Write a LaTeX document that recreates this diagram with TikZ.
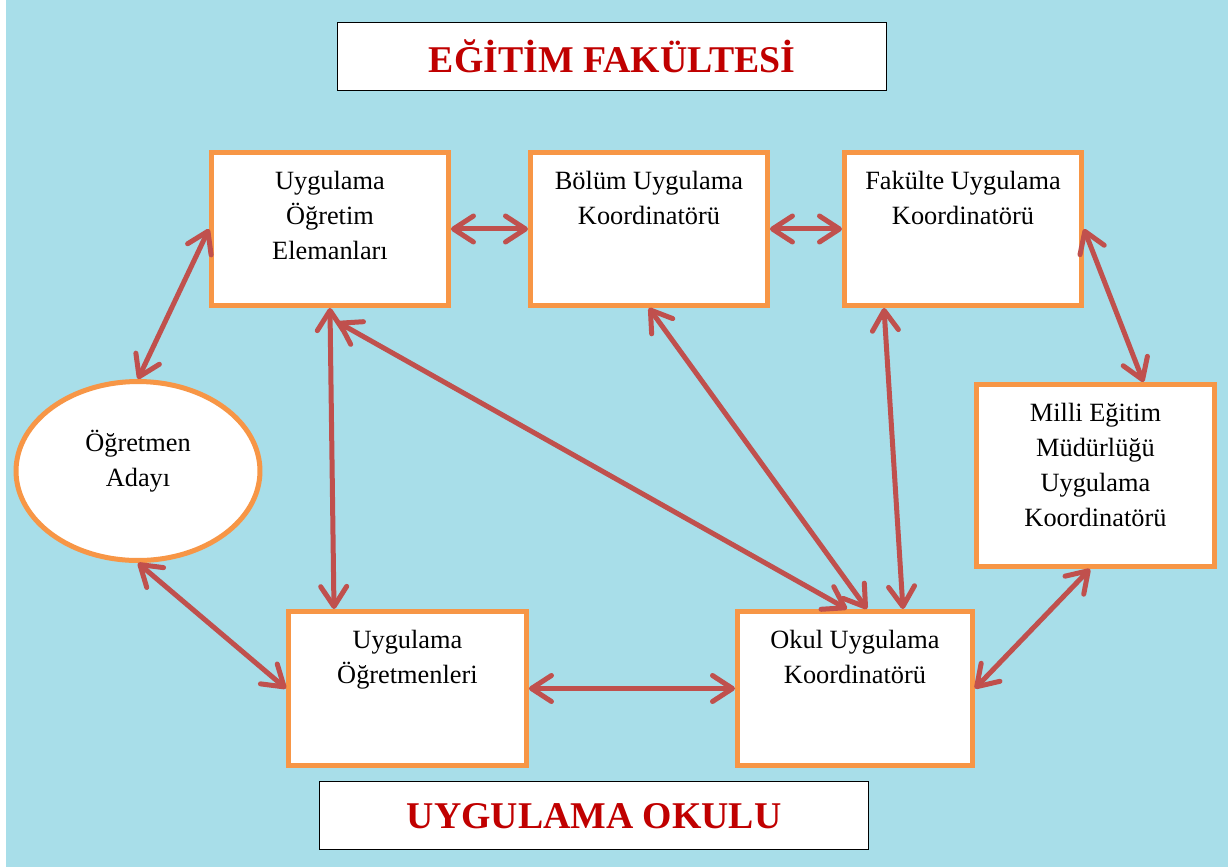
\documentclass[tikz,border=0pt]{standalone}
\usepackage{fontspec}
\setmainfont{Liberation Serif}
\usetikzlibrary{shapes.geometric,arrows.meta}

\definecolor{waterblue}{RGB}{168,222,233}
\definecolor{boxorange}{RGB}{247,150,70}
\definecolor{linkred}{RGB}{192,80,77}
\definecolor{titlered}{RGB}{192,0,0}

% text at the top of a unit box: width, height, lines
\newcommand{\unittext}[3]{\parbox[t][#2][t]{#1}{\centering\rule{0pt}{0.74cm}#3}}

\begin{document}
\begin{tikzpicture}[
  x=0.02cm,y=-0.02cm,
  titlebox/.style={
    draw=black,
    line width=0.8pt,
    fill=white,
    inner sep=0pt,
    anchor=north west,
    minimum width=10.98cm,
    minimum height=1.36cm,
    text=titlered,
    font=\fontsize{21.5}{26}\selectfont\bfseries
  },
  unit/.style={
    draw=boxorange,
    line width=0.1cm,
    fill=white,
    inner sep=0pt,
    anchor=north west,
    font=\fontsize{15}{20}\selectfont
  },
  link/.style={
    draw=linkred,
    line width=0.1cm,
    line cap=round,
    {Straight Barb[length=0.4cm,width=0.52cm,round]}-{Straight Barb[length=0.4cm,width=0.52cm,round]}
  }
]
  \useasboundingbox (0,0) rectangle (1228,867);
  \fill[white] (0,0) rectangle (1228,867);
  \fill[waterblue] (6,0) rectangle (1228,867);

  % faculty side
  \node[titlebox] (faculty) at (337,22) {EĞİTİM FAKÜLTESİ};
  \node[unit] (staff) at (209,150) {\unittext{4.74cm}{3.06cm}{Uygulama\\Öğretim\\Elemanları}};
  \node[unit] (deptcoord) at (528,150) {\unittext{4.74cm}{3.06cm}{Bölüm Uygulama\\Koordinatörü}};
  \node[unit] (faccoord) at (842,150) {\unittext{4.74cm}{3.06cm}{Fakülte Uygulama\\Koordinatörü}};
  \node[unit] (meb) at (974,382) {\unittext{4.76cm}{3.64cm}{Milli Eğitim\\Müdürlüğü\\Uygulama\\Koordinatörü}};
  \node[ellipse,draw=boxorange,line width=0.1cm,fill=white,inner sep=0pt,
    minimum width=4.88cm,minimum height=3.58cm,align=center,
    font=\fontsize{15}{20}\selectfont] (candidate) at (138,471) {Öğretmen\\Adayı\rule[-0.52cm]{0pt}{0pt}};

  % school side
  \node[unit] (teachers) at (286,609) {\unittext{4.76cm}{3.08cm}{Uygulama\\Öğretmenleri}};
  \node[unit] (schcoord) at (735,609) {\unittext{4.7cm}{3.08cm}{Okul Uygulama\\Koordinatörü}};
  \node[titlebox] (school) at (319,781) {UYGULAMA OKULU};

  % links
  \draw[link] (candidate.north) -- (staff.west);
  \draw[link] (staff.east) -- (deptcoord.west);
  \draw[link] (deptcoord.east) -- (faccoord.west);
  \draw[link] (faccoord.east) -- ([xshift=0.96cm]meb.north);
  \draw[link] (staff.south) -- ([xshift=0.96cm]teachers.north west);
  \draw[link] ([xshift=0.15cm,yshift=-0.28cm]staff.south) -- ([xshift=2.24cm]schcoord.north west);
  \draw[link] (deptcoord.south) -- ([xshift=2.64cm]schcoord.north west);
  \draw[link] ([xshift=0.84cm]faccoord.south west) -- ([xshift=3.36cm]schcoord.north west);
  \draw[link] ([xshift=2.32cm]meb.south west) -- (schcoord.east);
  \draw[link] (candidate.south) -- (teachers.west);
  \draw[link] (teachers.east) -- (schcoord.west);
\end{tikzpicture}
\end{document}
